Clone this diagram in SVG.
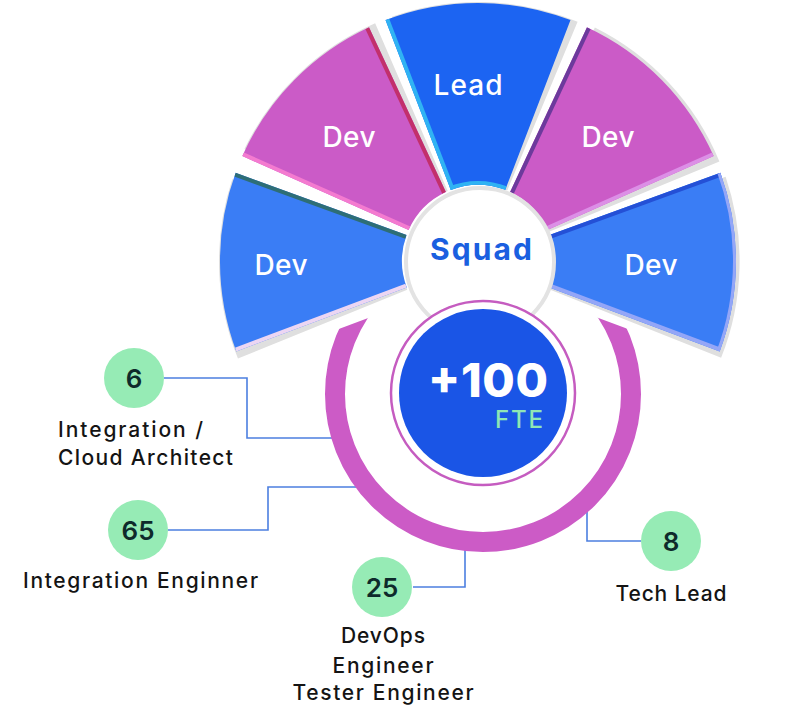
<svg xmlns="http://www.w3.org/2000/svg" xmlns:xlink="http://www.w3.org/1999/xlink" width="800" height="709" viewBox="0 0 800 709">
<style>
text{font-family:Inter,"Liberation Sans",sans-serif}
.seglbl{fill:#fff;font-size:28px;font-weight:500;text-anchor:middle}
.num{fill:#0e2a2b;font-size:26px;font-weight:600;text-anchor:middle}
.lbl{fill:#141414;font-size:21px;font-weight:500}
.mid{text-anchor:middle}
.badge{fill:#96ebb5}
.conn{fill:none;stroke:#4c7fe0;stroke-width:1.6}
.shadow{fill:#dfdfdf}
.strip{fill:none;stroke-width:8}
</style>
<defs>
<path id="s1" d="M236.3 351.4 A258 258 0 0 1 235.6 172.8 L406.6 235.0 A76 76 0 0 0 406.8 287.6 Z"/>
<path id="s2" d="M242.3 156.1 A258 258 0 0 1 369.0 27.2 L445.9 192.1 A76 76 0 0 0 408.6 230.1 Z"/>
<path id="s3" d="M385.5 20.1 A258 258 0 0 1 570.5 20.1 L505.2 190.0 A76 76 0 0 0 450.8 190.0 Z"/>
<path id="s4" d="M587.0 27.2 A258 258 0 0 1 713.7 156.1 L547.4 230.1 A76 76 0 0 0 510.1 192.1 Z"/>
<path id="s5" d="M720.4 172.8 A258 258 0 0 1 719.7 351.4 L549.2 287.6 A76 76 0 0 0 549.4 235.0 Z"/>
<clipPath id="c1"><use xlink:href="#s1"/></clipPath>
<clipPath id="c2"><use xlink:href="#s2"/></clipPath>
<clipPath id="c3"><use xlink:href="#s3"/></clipPath>
<clipPath id="c4"><use xlink:href="#s4"/></clipPath>
<clipPath id="c5"><use xlink:href="#s5"/></clipPath>
<clipPath id="ringclip"><polygon points="200,381.1 483,275 800,393.3 800,709 200,709"/></clipPath>
</defs>

<g id="connectors">
<path class="conn" d="M164 378 H247 V438 H340"/>
<path class="conn" d="M168 530 H268 V487 H362"/>
<path class="conn" d="M413 587 H465 V545"/>
<path class="conn" d="M641 541 H587 V505"/>
</g>

<g id="seg-dev-left">
<use xlink:href="#s1" class="shadow" transform="translate(478 261) rotate(-1.6) scale(1.004) translate(-478 -261)"/>
<use xlink:href="#s1" fill="#3a7df5"/>
<g clip-path="url(#c1)">
<line class="strip" stroke="#2e6e76" x1="235.6" y1="172.8" x2="406.6" y2="235.0"/>
<line class="strip" stroke="#ecd6f3" x1="236.3" y1="351.4" x2="406.8" y2="287.6"/>
</g>
<text class="seglbl" x="281" y="275" textLength="53">Dev</text>
</g>

<g id="seg-dev-upleft">
<use xlink:href="#s2" class="shadow" transform="translate(478 261) rotate(1.6) scale(1.004) translate(-478 -261)"/>
<use xlink:href="#s2" fill="#cb5bc7"/>
<g clip-path="url(#c2)">
<line class="strip" stroke="#c2306c" x1="369.0" y1="27.2" x2="445.9" y2="192.1"/>
<line class="strip" stroke="#f47bd0" x1="242.3" y1="156.1" x2="408.6" y2="230.1"/>
</g>
<text class="seglbl" x="349" y="147" textLength="53">Dev</text>
</g>

<g id="seg-lead">
<use xlink:href="#s3" class="shadow" transform="translate(478 261) rotate(1.6) scale(1.004) translate(-478 -261)"/>
<use xlink:href="#s3" fill="#1c64f2"/>
<g clip-path="url(#c3)">
<line class="strip" stroke="#30b3f3" x1="385.5" y1="20.1" x2="450.8" y2="190.0"/>
<circle cx="478" cy="261" r="76" fill="none" stroke="#30b3f3" stroke-width="8"/>
</g>
<text class="seglbl" x="468" y="95" textLength="69">Lead</text>
</g>

<g id="seg-dev-upright">
<use xlink:href="#s4" class="shadow" transform="translate(478 261) rotate(1.6) scale(1.012) translate(-478 -261)"/>
<use xlink:href="#s4" fill="#cb5bc7"/>
<g clip-path="url(#c4)">
<line class="strip" stroke="#6c3a9c" x1="587.0" y1="27.2" x2="510.1" y2="192.1"/>
<line class="strip" stroke="#dc8fe6" x1="713.7" y1="156.1" x2="547.4" y2="230.1"/>
</g>
<text class="seglbl" x="608" y="147" textLength="53">Dev</text>
</g>

<g id="seg-dev-right">
<use xlink:href="#s5" class="shadow" transform="translate(478 261) rotate(1.2) scale(1.014) translate(-478 -261)"/>
<use xlink:href="#s5" fill="#3a7df5"/>
<g clip-path="url(#c5)">
<line class="strip" stroke="#2450d6" x1="720.4" y1="172.8" x2="549.4" y2="235.0"/>
<line class="strip" stroke="#94a6f7" x1="719.7" y1="351.4" x2="549.2" y2="287.6"/>
<circle cx="478" cy="261" r="258" fill="none" stroke="#94a6f7" stroke-width="6"/>
</g>
<text class="seglbl" x="651" y="275" textLength="53">Dev</text>
</g>

<g id="squad">
<circle cx="480" cy="262" r="74" fill="#fff" stroke="#e3e3e3" stroke-width="4"/>
<text x="481" y="260" class="mid" fill="#1a5fe0" font-size="30" font-weight="700" textLength="102">Squad</text>
</g>

<g id="ring">
<circle cx="483" cy="394" r="148" fill="none" stroke="#cc5bc6" stroke-width="20" clip-path="url(#ringclip)"/>
</g>

<g id="total">
<circle cx="483" cy="393" r="92" fill="#fff" stroke="#c55cc0" stroke-width="2.5"/>
<circle cx="483" cy="393" r="84" fill="#1a55e6"/>
<text x="488" y="397" fill="#fff" font-size="47" font-weight="800" text-anchor="middle" textLength="120">+100</text>
<text x="519" y="428" fill="#8fe6b4" font-size="24" font-weight="500" text-anchor="middle" textLength="48">FTE</text>
</g>

<g id="n-6">
<circle class="badge" cx="134" cy="378" r="30"/>
<text class="num" x="134" y="388">6</text>
<text class="lbl" x="58" y="437" textLength="145">Integration /</text>
<text class="lbl" x="58" y="465" textLength="175">Cloud Architect</text>
</g>

<g id="n-65">
<circle class="badge" cx="138" cy="530" r="30"/>
<text class="num" x="138" y="540">65</text>
<text class="lbl mid" x="140.5" y="588" textLength="235">Integration Enginner</text>
</g>

<g id="n-25">
<circle class="badge" cx="382" cy="587" r="30"/>
<text class="num" x="382" y="597">25</text>
<text class="lbl mid" x="383" y="643" textLength="84">DevOps</text>
<text class="lbl mid" x="383" y="673" textLength="101">Engineer</text>
<text class="lbl mid" x="383" y="700" textLength="181">Tester Engineer</text>
</g>

<g id="n-8">
<circle class="badge" cx="671" cy="541" r="30"/>
<text class="num" x="671" y="551">8</text>
<text class="lbl mid" x="671" y="601" textLength="111">Tech Lead</text>
</g>
</svg>
